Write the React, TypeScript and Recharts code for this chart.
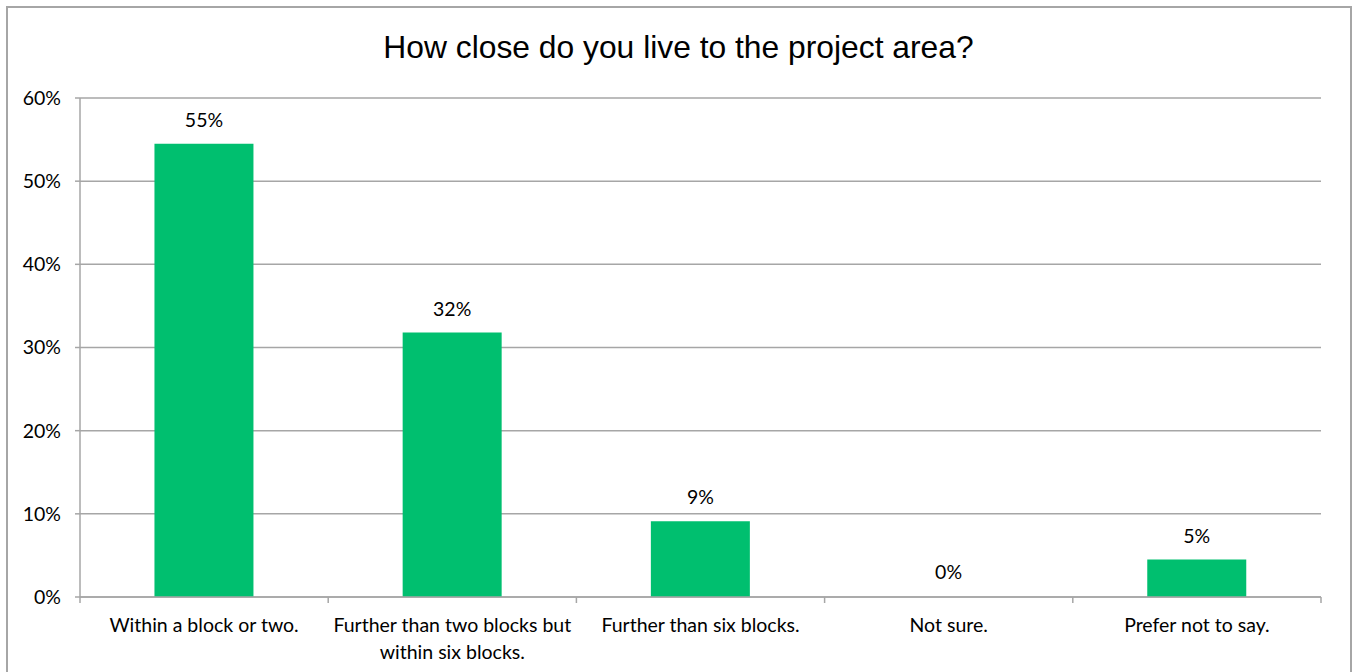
import React from "react"
import { BarChart, Bar, XAxis, YAxis, CartesianGrid, LabelList, Rectangle } from "recharts"

const categories = [
  "Within a block or two.",
  "Further than two blocks but within six blocks.",
  "Further than six blocks.",
  "Not sure.",
  "Prefer not to say.",
]
const shares = [0.545, 0.318, 0.091, 0, 0.045]
const yTicks = [0, 0.1, 0.2, 0.3, 0.4, 0.5, 0.6]

const data = categories.map((name, i) => ({ name, value: shares[i] }))

const W = 1357
const H = 672
const margin = { top: 98, right: 36, left: 0, bottom: 0 }
const yAxisWidth = 80
const plotWidth = W - margin.left - margin.right - yAxisWidth
const step = plotWidth / categories.length

const FONT = "Lato, 'Noto Sans', sans-serif"
const FS = 19.5
const GRAY = "#a6a6a6"

const pct = (v: number) => `${Math.round(v * 100)}%`

let ctx: CanvasRenderingContext2D | null = null
function wrap(label: string, maxWidth: number): string[] {
  if (!ctx) ctx = document.createElement("canvas").getContext("2d")
  if (!ctx) return [label]
  ctx.font = `${FS}px ${FONT}`
  const lines: string[] = []
  let cur = ""
  for (const word of label.split(" ")) {
    const next = cur ? cur + " " + word : word
    if (cur && ctx.measureText(next).width > maxWidth) {
      lines.push(cur)
      cur = word
    } else {
      cur = next
    }
  }
  if (cur) lines.push(cur)
  return lines
}

function CategoryTick(props: any) {
  const { x, y, payload, index } = props
  const last = index === categories.length - 1
  const lines = wrap(String(payload.value), step - 2)
  return (
    <g>
      <line x1={x - step / 2} x2={x - step / 2} y1={y} y2={y + 6} stroke={GRAY} strokeWidth={1.5} />
      {last && <line x1={x + step / 2} x2={x + step / 2} y1={y} y2={y + 6} stroke={GRAY} strokeWidth={1.5} />}
      <text x={x} y={y + 35} textAnchor="middle" fontSize={FS} fontFamily={FONT} fill="#000">
        {lines.map((ln, i) => (
          <tspan key={i} x={x} dy={i === 0 ? 0 : 26.5}>
            {ln}
          </tspan>
        ))}
      </text>
    </g>
  )
}

// zero values keep their label but draw no rectangle
function BarShape(props: any) {
  if (!props.value) return <g />
  return <Rectangle {...props} />
}

export default function App() {
  return (
    <div style={{ position: "absolute", left: 0, top: 0, width: W, height: H, background: "#fff", overflow: "hidden" }}>
      <div
        style={{
          position: "absolute",
          left: 6,
          top: 6,
          width: 1342,
          height: 720,
          border: `2px solid ${GRAY}`,
        }}
      />
      <div
        style={{
          position: "absolute",
          left: 0,
          top: 31,
          width: W,
          textAlign: "center",
          fontFamily: "'Liberation Sans', Arial, sans-serif",
          fontSize: 31.8,
          lineHeight: "32px",
          color: "#000",
        }}
      >
        How close do you live to the project area?
      </div>
      <div style={{ position: "absolute", left: 0, top: 0 }}>
        <BarChart width={W} height={H} data={data} margin={margin} barCategoryGap="30%">
          <CartesianGrid vertical={false} stroke={GRAY} strokeWidth={1.5} />
          <XAxis
            dataKey="name"
            height={75}
            interval={0}
            tickLine={false}
            tickSize={0}
            tickMargin={0}
            axisLine={{ stroke: GRAY, strokeWidth: 1.5 }}
            tick={<CategoryTick />}
          />
          <YAxis
            width={yAxisWidth}
            domain={[0, 0.6]}
            ticks={yTicks}
            tickFormatter={pct}
            tickSize={5}
            tickMargin={14}
            axisLine={{ stroke: GRAY, strokeWidth: 1.5 }}
            tickLine={{ stroke: GRAY, strokeWidth: 1.5 }}
            tick={{ fill: "#000", fontSize: FS, fontFamily: FONT }}
          />
          <Bar dataKey="value" fill="#00BF6F" minPointSize={1} shape={<BarShape />} isAnimationActive={false}>
            <LabelList
              dataKey="value"
              position="top"
              offset={17}
              formatter={(v: any) => pct(Number(v))}
              style={{ fill: "#000", fontSize: FS, fontFamily: FONT }}
            />
          </Bar>
        </BarChart>
      </div>
    </div>
  )
}
